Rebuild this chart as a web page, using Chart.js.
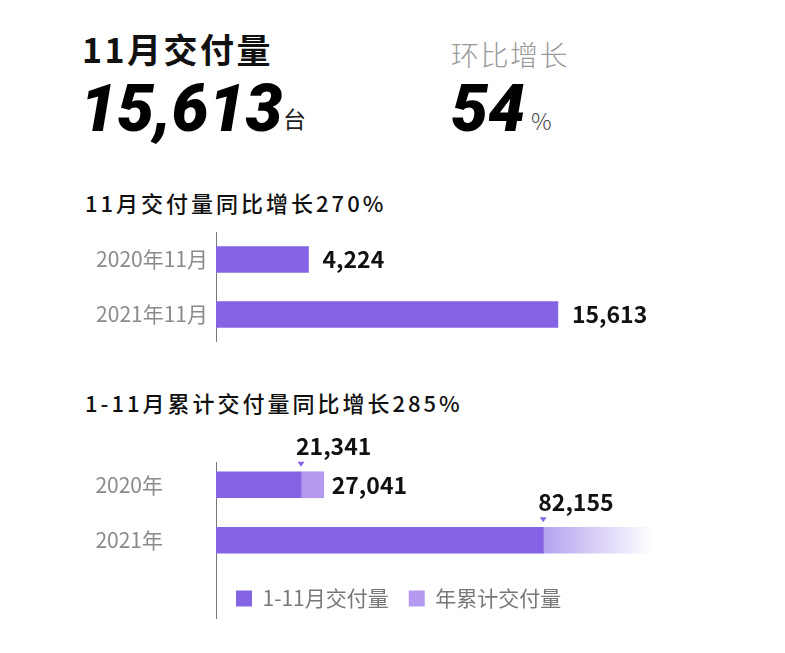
<!DOCTYPE html>
<html lang="zh-CN">
<head>
<meta charset="utf-8">
<script src="https://cdn.jsdelivr.net/npm/chart.js@4.4.0/dist/chart.umd.min.js"></script>
<style>
    html, body { margin: 0; padding: 0; background: #fff; }
    body { width: 785px; height: 653px; position: relative; overflow: hidden;
           font-family: "Noto Sans CJK SC", "Noto Sans", sans-serif; }
    .abs { position: absolute; line-height: 1; white-space: nowrap; }
    .head { font-size: 34px; font-weight: 700; letter-spacing: 2.5px; color: #111; }
    .big { font-family: Roboto, "Noto Sans", sans-serif; font-weight: 900; font-style: italic;
           font-size: 66px; color: #000; }
    .sub { font-size: 28px; font-weight: 300; letter-spacing: 1.5px; color: #999; }
    .unit { font-size: 23px; color: #222; }
    .title { font-size: 22px; font-weight: 500; letter-spacing: 3px; color: #111; }
    canvas { position: absolute; left: 0; }
</style>
</head>
<body>
    <div class="abs head" style="left:82px; top:32px;">11月交付量</div>
    <div class="abs big" style="left:80px; top:76px;">15,613</div>
    <div class="abs unit" style="left:283px; top:107px;">台</div>

    <div class="abs sub" style="left:451px; top:40px;">环比增长</div>
    <div class="abs big" style="left:451px; top:76px;">54</div>
    <div class="abs unit" style="left:531px; top:109px; font-weight:300; color:#444;">%</div>

    <div class="abs title" style="left:85px; top:191px;">11月交付量同比增长270%</div>
    <canvas id="monthChart" width="785" height="110" style="top:232px;"></canvas>

    <div class="abs title" style="left:85px; top:391px;">1-11月累计交付量同比增长285%</div>
    <canvas id="cumChart" width="785" height="194" style="top:425px;"></canvas>

<script>
    // --- DATA ---

    // 11月 single month
    const monthLabels = ['2020年11月', '2021年11月'];
    const monthValues = [4224, 15613];

    // 1-11月 cumulative
    const cumLabels = ['2020年', '2021年'];
    const ytdValues = [21341, 82155];        // 1-11月交付量
    const restValues = [5700, 27600];        // 2020: rest of year (27,041 total); 2021: faded tail
    const fullYearTotals = [27041, null];    // 年累计交付量 (only known for 2020)
    const seriesNames = ['1-11月交付量', '年累计交付量'];

    // --- STYLE ---
    const DARK = '#8464e4';
    const LIGHT = '#b598f0';
    const CJK = '"Noto Sans CJK SC", "Noto Sans", sans-serif';

    const fmt = v => v.toLocaleString('en-US');

    // fixed-width y axis, no extra top/bottom padding from the tick labels
    function fixAxis(s) {
        s.width = 216;
        s.paddingTop = 0;
        s.paddingBottom = 0;
    }

    // value labels at the end of each bar (chart 1)
    const monthValueLabels = {
        id: 'monthValueLabels',
        afterDatasetsDraw(chart) {
            const ctx = chart.ctx;
            ctx.save();
            ctx.font = 'bold 23px ' + CJK;
            ctx.fillStyle = '#111';
            ctx.textAlign = 'left';
            ctx.textBaseline = 'middle';
            chart.getDatasetMeta(0).data.forEach((el, i) => {
                ctx.fillText(fmt(monthValues[i]), el.x + 14, el.y);
            });
            ctx.restore();
        }
    };

    // markers + labels for the cumulative chart, and the long axis line
    const cumDecorations = {
        id: 'cumDecorations',
        beforeDatasetsDraw(chart) {
            const ctx = chart.ctx;
            const area = chart.chartArea;
            ctx.save();
            ctx.strokeStyle = '#777';
            ctx.lineWidth = 1;
            ctx.beginPath();
            ctx.moveTo(area.left + 0.5, area.top + 5);
            ctx.lineTo(area.left + 0.5, chart.legend.bottom);
            ctx.stroke();
            ctx.restore();
        },
        afterDatasetsDraw(chart) {
            const ctx = chart.ctx;
            ctx.save();
            ctx.font = 'bold 23px ' + CJK;
            ctx.textAlign = 'left';
            ctx.textBaseline = 'middle';

            chart.getDatasetMeta(0).data.forEach((el, i) => {
                const top = el.y - el.height / 2;
                ctx.fillStyle = DARK;
                ctx.beginPath();
                ctx.moveTo(el.x - 3.5, top - 10);
                ctx.lineTo(el.x + 3.5, top - 10);
                ctx.lineTo(el.x, top - 5);
                ctx.closePath();
                ctx.fill();
                ctx.fillStyle = '#111';
                ctx.fillText(fmt(ytdValues[i]), el.x - 5, top - 25);
            });

            chart.getDatasetMeta(1).data.forEach((el, i) => {
                if (fullYearTotals[i] == null) return;
                ctx.fillStyle = '#111';
                ctx.fillText(fmt(fullYearTotals[i]), el.x + 8, el.y + 1);
            });
            ctx.restore();
        }
    };

    // light segment: plain for 2020, fading gradient for 2021
    function restColor(context) {
        if (context.type !== 'data' || context.dataIndex !== 1) return LIGHT;
        const chart = context.chart;
        if (!chart.chartArea) return LIGHT;
        const xs = chart.scales.x;
        const x0 = xs.getPixelForValue(ytdValues[1]);
        const x1 = xs.getPixelForValue(ytdValues[1] + restValues[1]);
        const g = chart.ctx.createLinearGradient(x0, 0, x1, 0);
        g.addColorStop(0, 'rgba(132,100,228,0.6)');
        g.addColorStop(1, 'rgba(132,100,228,0)');
        return g;
    }

    const tickFont = { size: 21, family: CJK };

    // --- CHART 1 ---
    new Chart(document.getElementById('monthChart'), {
        type: 'bar',
        data: {
            labels: monthLabels,
            datasets: [{
                data: monthValues,
                backgroundColor: DARK,
                barThickness: 26
            }]
        },
        options: {
            indexAxis: 'y',
            responsive: false,
            animation: false,
            layout: { padding: { right: 131 } },
            scales: {
                x: { display: false, min: 0, max: 20000 },
                y: {
                    afterFit: fixAxis,
                    grid: { display: false, drawTicks: false },
                    border: { color: '#777', width: 1 },
                    ticks: { color: '#8a8a8a', padding: 8, font: tickFont }
                }
            },
            plugins: { legend: { display: false }, tooltip: { enabled: false } }
        },
        plugins: [monthValueLabels]
    });

    // --- CHART 2 ---
    new Chart(document.getElementById('cumChart'), {
        type: 'bar',
        data: {
            labels: cumLabels,
            datasets: [
                { label: seriesNames[0], data: ytdValues, backgroundColor: DARK, barThickness: 26 },
                { label: seriesNames[1], data: restValues, backgroundColor: restColor, barThickness: 26 }
            ]
        },
        options: {
            indexAxis: 'y',
            responsive: false,
            animation: false,
            layout: { padding: { top: 32, right: 91 } },
            scales: {
                x: { display: false, stacked: true, min: 0, max: 120000 },
                y: {
                    stacked: true,
                    afterFit: fixAxis,
                    grid: { display: false, drawTicks: false },
                    border: { display: false },
                    ticks: { color: '#8a8a8a', padding: 53, font: tickFont }
                }
            },
            plugins: {
                legend: {
                    position: 'bottom',
                    align: 'start',
                    fullSize: false,
                    labels: {
                        boxWidth: 16,
                        boxHeight: 16,
                        padding: 20,
                        color: '#777',
                        font: { size: 21, family: CJK }
                    }
                },
                tooltip: { enabled: false }
            }
        },
        plugins: [cumDecorations]
    });
</script>
</body>
</html>
